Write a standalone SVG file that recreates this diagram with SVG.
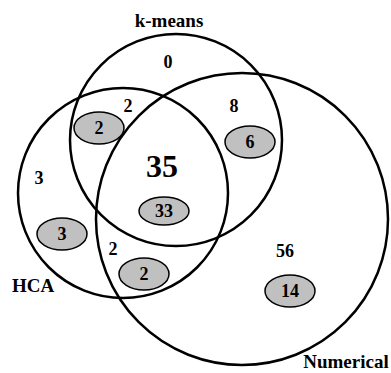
<svg xmlns="http://www.w3.org/2000/svg" width="391" height="373" viewBox="0 0 391 373">
<style>
.c{fill:none;stroke:#000;stroke-width:2.5}
.e{fill:#c0c0c0;stroke:#000;stroke-width:1.5}
text{font-family:"Liberation Serif","Times New Roman",serif;font-weight:bold;fill:#000;text-anchor:middle}
.n{font-size:18px}
.l{font-size:19px}
.b{font-size:32px}
</style>
<rect width="391" height="373" fill="#fff"/>
<g id="kmeans"><circle class="c" cx="176" cy="140" r="106"/><text class="l" x="169" y="27">k-means</text></g>
<g id="hca"><circle class="c" cx="123" cy="193" r="105"/><text class="l" x="33" y="292">HCA</text></g>
<g id="numerical"><circle class="c" cx="242" cy="219" r="146"/><text class="l" x="346" y="368">Numerical</text></g>
<g id="counts">
<text class="n" x="168" y="68">0</text>
<text class="n" x="128" y="112">2</text>
<text class="n" x="234" y="112">8</text>
<text class="b" x="162" y="177">35</text>
<text class="n" x="39" y="184">3</text>
<text class="n" x="113" y="255">2</text>
<text class="n" x="285" y="257">56</text>
</g>
<g id="e1"><ellipse class="e" cx="99" cy="128" rx="25" ry="16"/><text class="n" x="99" y="134">2</text></g>
<g id="e2"><ellipse class="e" cx="250" cy="142" rx="25" ry="16"/><text class="n" x="250" y="148">6</text></g>
<g id="e3"><ellipse class="e" cx="164" cy="211" rx="25" ry="14"/><text class="n" x="164" y="217">33</text></g>
<g id="e4"><ellipse class="e" cx="62" cy="234" rx="25" ry="16"/><text class="n" x="62" y="240">3</text></g>
<g id="e5"><ellipse class="e" cx="144" cy="274" rx="25" ry="16"/><text class="n" x="144" y="280">2</text></g>
<g id="e6"><ellipse class="e" cx="290" cy="291" rx="25" ry="16"/><text class="n" x="290" y="297">14</text></g>
<g id="connectors"/>
</svg>
